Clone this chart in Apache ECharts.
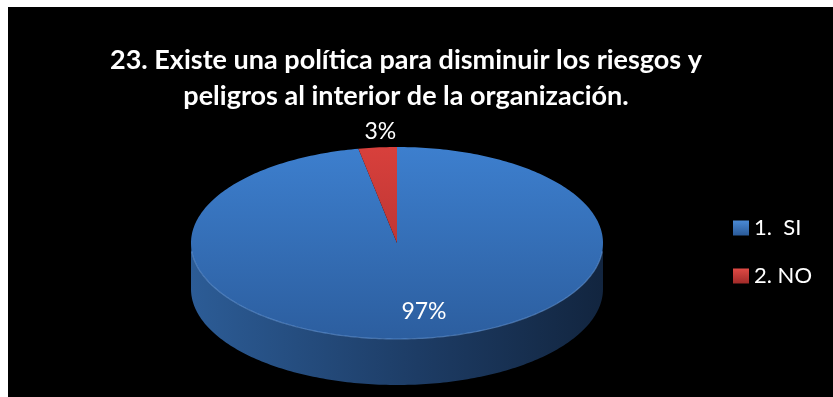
<!DOCTYPE html>
<html>
<head>
<meta charset="utf-8">
<script src="https://cdn.jsdelivr.net/npm/echarts@6/dist/echarts.min.js"></script>
<style>
html,body{margin:0;padding:0;background:#fff;}
#c{width:833px;height:397px;}
</style>
</head>
<body>
<div id="c"></div>
<script>
var categories = ['1.  SI', '2. NO'];
var values = [97, 3];
var titleLines = ['23. Existe una política para disminuir los riesgos y', 'peligros al interior de la organización.'];

var topColors = [['#3d7fce', '#2c5e9f'], ['#d8403c', '#a52c2b']];
var sideColors = [['#2c5c96', '#12253f'], ['#a02a28', '#5a1514']];
var legendColors = [['#4a8ad6', '#2a5a98'], ['#e04a45', '#a02a28']];

var total = values.reduce(function (a, b) { return a + b; }, 0);
var startPct = [];
(function () { var s = 0; for (var i = 0; i < values.length; i++) { startPct.push(s); s += values[i]; } })();

var PIE = { cx: 397, cy: 243, rx: 206, ry: 96, depth: 46 };

function pt(deg, dy) {
  var r = deg * Math.PI / 180;
  return [PIE.cx + PIE.rx * Math.cos(r), PIE.cy - PIE.ry * Math.sin(r) + (dy || 0)];
}

function arc(a0, a1, dy) {
  var pts = [];
  var n = Math.max(2, Math.ceil(Math.abs(a1 - a0)));
  for (var i = 0; i <= n; i++) pts.push(pt(a0 + (a1 - a0) * i / n, dy));
  return pts;
}

function renderSlice(params, api) {
  var idx = params.seriesIndex;
  var v = api.value(0);
  var s = startPct[idx];
  // Excel: starts at 12 o'clock, goes clockwise
  var a0 = 90 - s / total * 360;
  var a1 = 90 - (s + v) / total * 360;
  var children = [];

  var lo = Math.min(a0, a1), hi = Math.max(a0, a1);
  for (var k = -2; k <= 1; k++) {
    var f0 = Math.max(lo, 180 + 360 * k), f1 = Math.min(hi, 360 + 360 * k);
    if (f1 > f0) {
      var topArc = arc(f0, f1, 0);
      var botArc = arc(f1, f0, PIE.depth);
      children.push({
        type: 'polygon',
        shape: { points: topArc.concat(botArc) },
        style: {
          fill: new echarts.graphic.LinearGradient(PIE.cx - PIE.rx, 0, PIE.cx + PIE.rx, 0, [
            { offset: 0, color: sideColors[idx][0] },
            { offset: 0.55, color: '#1d3c65' },
            { offset: 1, color: sideColors[idx][1] }
          ], true)
        },
        z2: 1
      });
    }
  }

  var face = [[PIE.cx, PIE.cy]].concat(arc(a0, a1, 0));
  children.push({
    type: 'polygon',
    shape: { points: face },
    style: {
      fill: new echarts.graphic.LinearGradient(0, PIE.cy - PIE.ry, 0, PIE.cy + PIE.ry, [
        { offset: 0, color: topColors[idx][0] },
        { offset: 1, color: topColors[idx][1] }
      ], true)
    },
    z2: 5
  });

  for (var k2 = -2; k2 <= 1; k2++) {
    var g0 = Math.max(lo, 185 + 360 * k2), g1 = Math.min(hi, 355 + 360 * k2);
    if (g1 > g0) {
      children.push({
        type: 'polyline',
        shape: { points: arc(g0, g1, 0) },
        style: { stroke: 'rgba(110,160,225,0.55)', lineWidth: 1.2, fill: null },
        z2: 6
      });
    }
  }

  var pct = Math.round(v / total * 100);
  var mid = (a0 + a1) / 2;
  var f = pct < 10 ? 1.17 : 0.72;
  var rr = mid * Math.PI / 180;
  var lx = PIE.cx + f * PIE.rx * Math.cos(rr) + (pct < 10 ? 6 : 13);
  var ly = PIE.cy - f * PIE.ry * Math.sin(rr);
  children.push({
    type: 'text',
    style: {
      text: pct + '%', x: lx, y: ly, align: 'center', verticalAlign: 'middle',
      fill: '#ffffff', font: '23px Lato, "Open Sans", sans-serif'
    },
    z2: 10
  });

  return { type: 'group', children: children };
}

var series = categories.map(function (name, i) {
  return {
    type: 'custom',
    name: name,
    coordinateSystem: 'none',
    renderItem: renderSlice,
    data: [[values[i]]],
    itemStyle: {
      color: new echarts.graphic.LinearGradient(0, 0, 0, 1, [
        { offset: 0, color: legendColors[i][0] },
        { offset: 1, color: legendColors[i][1] }
      ])
    },
    silent: true
  };
});

var chart = echarts.init(document.getElementById('c'), null, { renderer: 'canvas' });
chart.setOption({
  backgroundColor: '#ffffff',
  animation: false,
  graphic: [{
    type: 'rect', shape: { x: 8, y: 7, width: 825, height: 390 },
    style: { fill: '#000000' }, z: -10, silent: true
  }],
  title: {
    text: titleLines.join('\n'),
    left: 406, top: 42, textAlign: 'center', padding: 0,
    textStyle: {
      color: '#ffffff', fontSize: 27, fontWeight: 'bold',
      fontFamily: 'Lato, "Open Sans", sans-serif', lineHeight: 36
    }
  },
  legend: {
    orient: 'vertical', left: 733, top: 216, padding: 0,
    itemWidth: 16, itemHeight: 15, itemGap: 24, icon: 'rect',
    selectedMode: false,
    textStyle: { color: '#ffffff', fontSize: 22, fontFamily: 'Lato, "Open Sans", sans-serif', lineHeight: 24 },
    data: categories
  },
  series: series
});
</script>
</body>
</html>
